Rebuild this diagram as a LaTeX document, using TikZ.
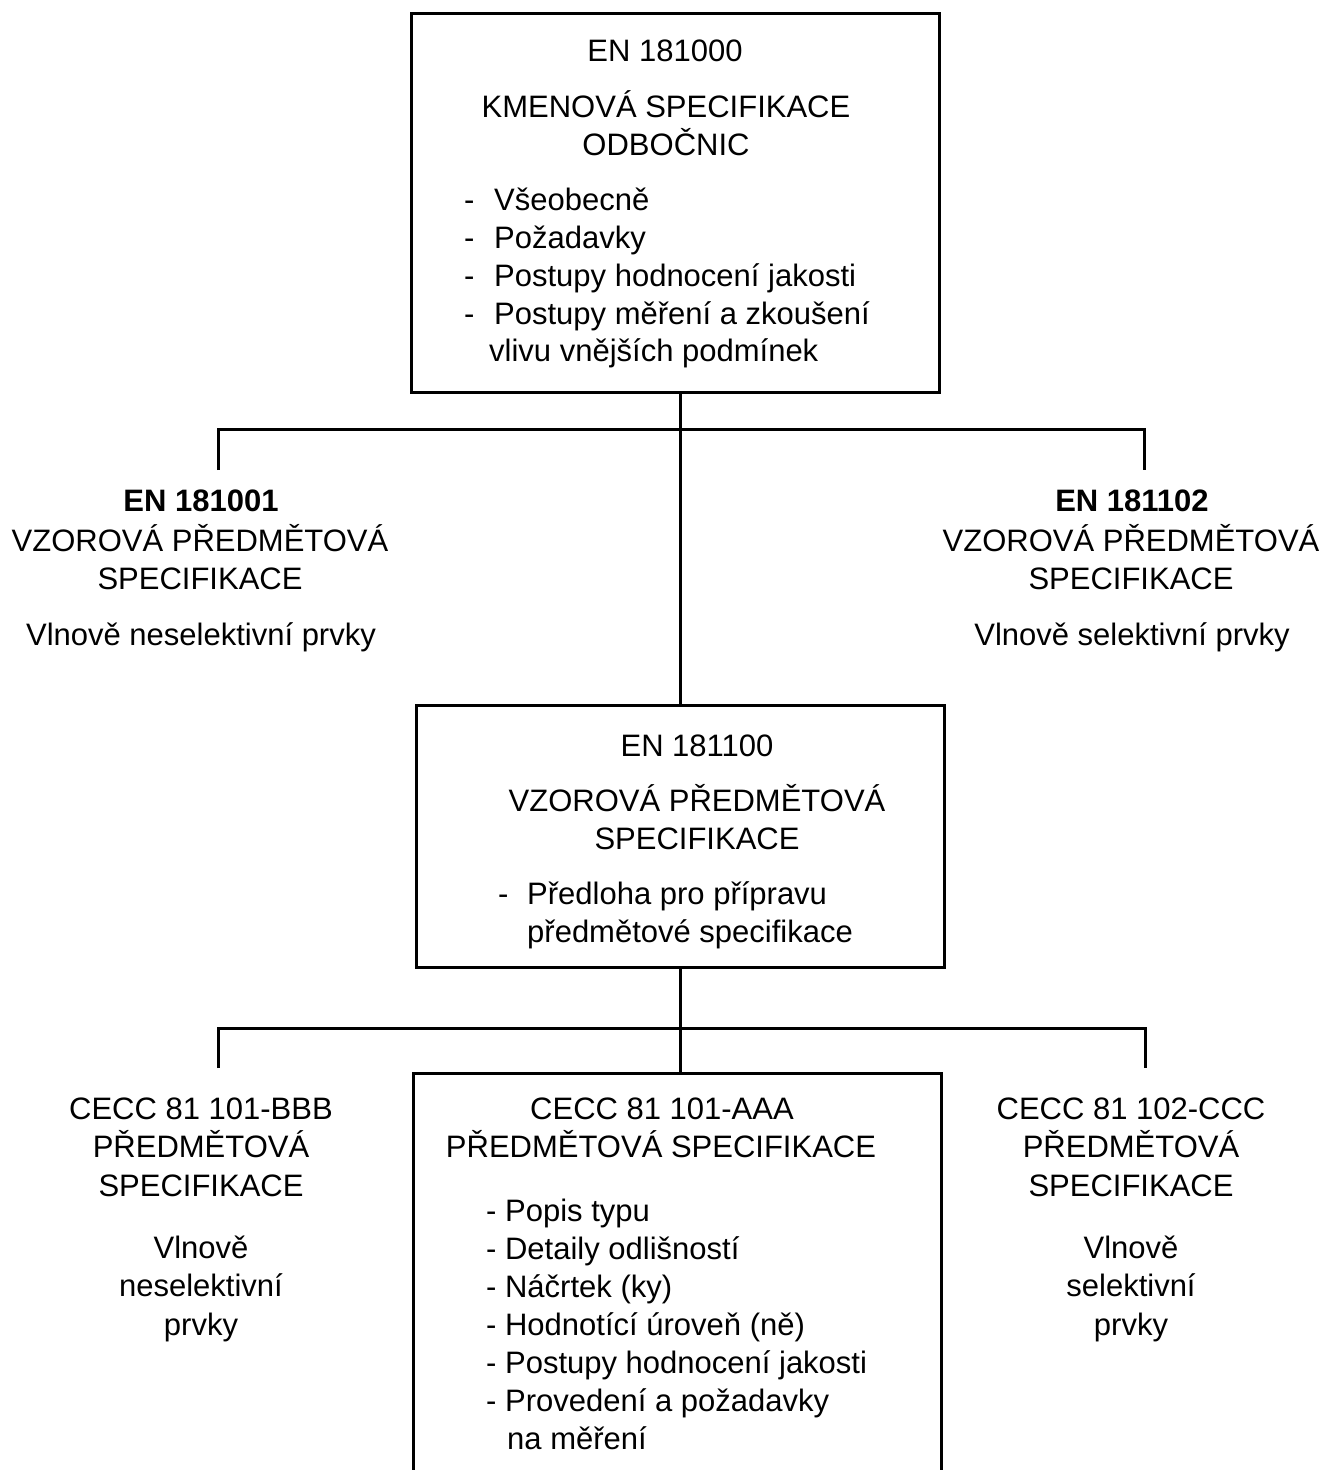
\documentclass[tikz,border=0pt]{standalone}
\usepackage{fontspec}
\setmainfont{Liberation Sans}
\begin{document}
\begin{tikzpicture}[x=1pt,y=-1pt,
  txt/.style={inner sep=0pt, font=\fontsize{31}{38}\selectfont},
  ctr/.style={txt, anchor=base},
  lft/.style={txt, anchor=base west},
  boxnode/.style={draw, line width=3pt, rectangle, inner sep=0pt},
  conn/.style={line width=3pt, line join=miter}]
\useasboundingbox (0,0) rectangle (1323,1470);
\clip (0,0) rectangle (1323,1470);
% boxes
\node[boxnode, minimum width=528pt, minimum height=379pt] (top) at (675,202.5) {};
\node[boxnode, minimum width=528pt, minimum height=262pt] (mid) at (680,836) {};
\node[boxnode, minimum width=528pt, minimum height=440pt] (bot) at (677,1293) {};
% junction coordinates
\coordinate (b1l) at (218,429);
\coordinate (b1r) at (1144,429);
\coordinate (d1l) at (218,470);
\coordinate (d1r) at (1144,470);
\coordinate (b2l) at (218,1028);
\coordinate (b2r) at (1145,1028);
\coordinate (d2l) at (218,1068);
\coordinate (d2r) at (1145,1068);
% connectors
\draw[conn] (top.south -| mid.north) -- (mid.north);
\draw[conn] (d1l) -- (b1l) -- (b1r) -- (d1r);
\draw[conn] (mid.south) -- (mid.south |- bot.north);
\draw[conn] (d2l) -- (b2l) -- (b2r) -- (d2r);
% top box text
\node[ctr] (t1) at (665,61) {EN 181000};
\node[ctr] (t2) at (666,117) {KMENOVÁ SPECIFIKACE};
\node[ctr] (t3) at (666,155) {ODBOČNIC};
\node[lft] (t4d) at (464,210) {-};
\node[lft] (t4) at (494,210) {Všeobecně};
\node[lft] (t5d) at (464,248) {-};
\node[lft] (t5) at (494,248) {Požadavky};
\node[lft] (t6d) at (464,286) {-};
\node[lft] (t6) at (494,286) {Postupy hodnocení jakosti};
\node[lft] (t7d) at (464,324) {-};
\node[lft] (t7) at (494,324) {Postupy měření a zkoušení};
\node[lft] (t8) at (489,361) {vlivu vnějších podmínek};
% left column
\node[ctr, font=\fontsize{31}{38}\selectfont\bfseries] (l1) at (201,511) {EN 181001};
\node[ctr] (l2) at (200,551) {VZOROVÁ PŘEDMĚTOVÁ};
\node[ctr] (l3) at (200,589) {SPECIFIKACE};
\node[ctr] (l4) at (201,645) {Vlnově neselektivní prvky};
% right column
\node[ctr, font=\fontsize{31}{38}\selectfont\bfseries] (r1) at (1132,511) {EN 181102};
\node[ctr] (r2) at (1131,551) {VZOROVÁ PŘEDMĚTOVÁ};
\node[ctr] (r3) at (1131,589) {SPECIFIKACE};
\node[ctr] (r4) at (1132,645) {Vlnově selektivní prvky};
% mid box text
\node[ctr] (m1) at (697,756) {EN 181100};
\node[ctr] (m2) at (697,811) {VZOROVÁ PŘEDMĚTOVÁ};
\node[ctr] (m3) at (697,849) {SPECIFIKACE};
\node[lft] (m4d) at (498,904) {-};
\node[lft] (m4) at (527,904) {Předloha pro přípravu};
\node[lft] (m5) at (527,942) {předmětové specifikace};
% bottom left
\node[ctr] (bl1) at (201,1119) {CECC 81 101-BBB};
\node[ctr] (bl2) at (201,1157) {PŘEDMĚTOVÁ};
\node[ctr] (bl3) at (201,1196) {SPECIFIKACE};
\node[ctr] (bl4) at (201,1258) {Vlnově};
\node[ctr] (bl5) at (201,1296) {neselektivní};
\node[ctr] (bl6) at (201,1335) {prvky};
% bottom right
\node[ctr] (br1) at (1131,1119) {CECC 81 102-CCC};
\node[ctr] (br2) at (1131,1157) {PŘEDMĚTOVÁ};
\node[ctr] (br3) at (1131,1196) {SPECIFIKACE};
\node[ctr] (br4) at (1131,1258) {Vlnově};
\node[ctr] (br5) at (1131,1296) {selektivní};
\node[ctr] (br6) at (1131,1335) {prvky};
% bottom box text
\node[ctr] (c1) at (662,1119) {CECC 81 101-AAA};
\node[ctr] (c2) at (661,1157) {PŘEDMĚTOVÁ SPECIFIKACE};
\node[lft] (c3) at (486,1221) {- Popis typu};
\node[lft] (c4) at (486,1259) {- Detaily odlišností};
\node[lft] (c5) at (486,1297) {- Náčrtek (ky)};
\node[lft] (c6) at (486,1335) {- Hodnotící úroveň (ně)};
\node[lft] (c7) at (486,1373) {- Postupy hodnocení jakosti};
\node[lft] (c8) at (486,1411) {- Provedení a požadavky};
\node[lft] (c9) at (507,1449) {na měření};
\end{tikzpicture}
\end{document}
